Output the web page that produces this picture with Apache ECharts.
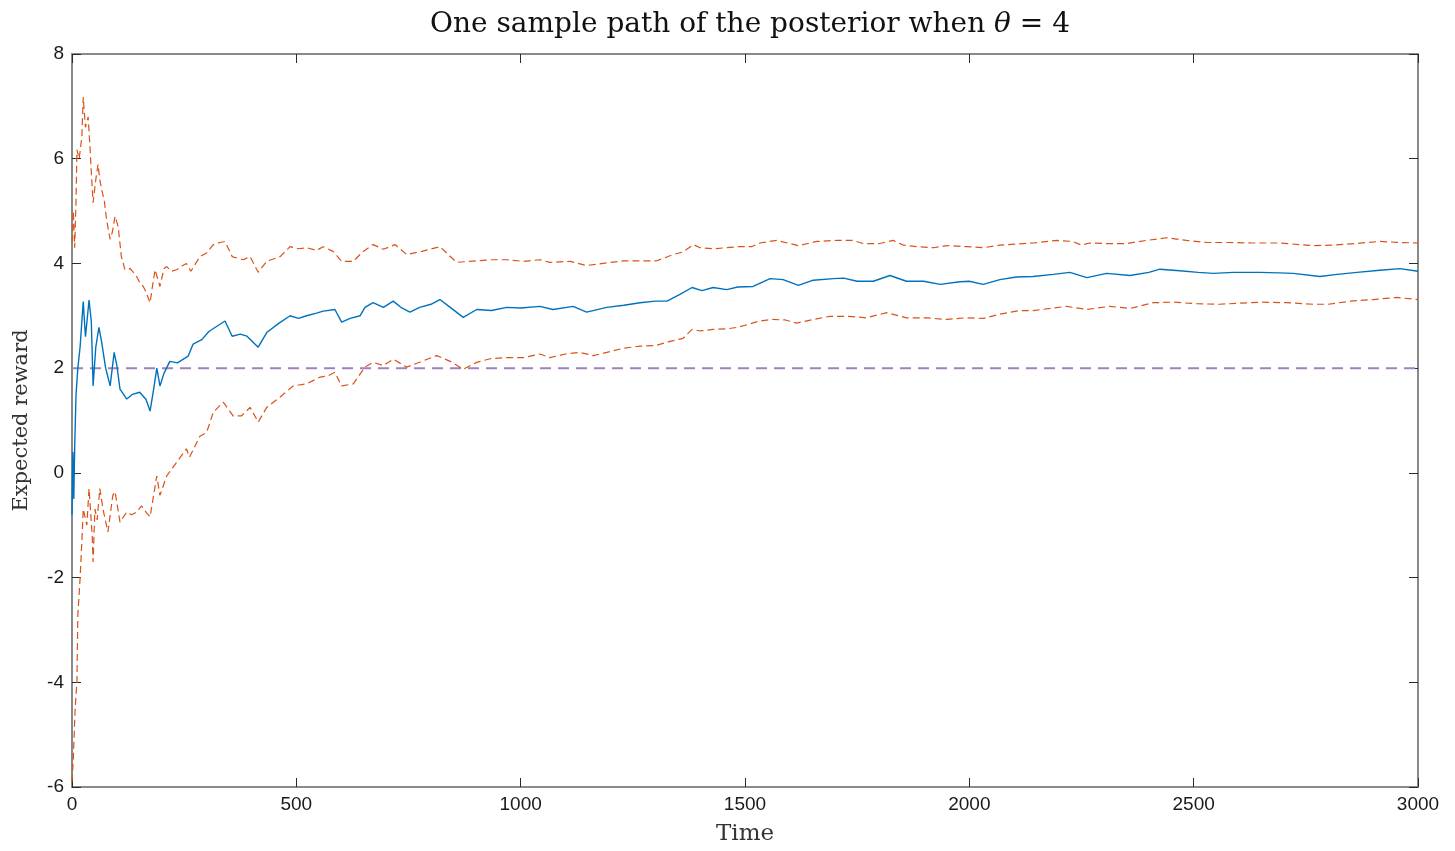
<!DOCTYPE html>
<html>
<head>
<meta charset="utf-8">
<script src="https://cdn.jsdelivr.net/npm/echarts@6/dist/echarts.min.js"></script>
<style>
html,body{margin:0;padding:0;background:#fff;}
#c{width:1455px;height:851px;}
</style>
</head>
<body>
<div id="c"></div>
<script>
// ---- data ----
const meanT = [0,2,4,6,9,13,18,25,30,38,
  43,47,53,60,66,75,85,94,100,107,
  115,122,135,151,165,174,182,189,196,205,
  218,235,259,270,290,305,323,341,357,375,
  390,415,434,460,486,505,523,545,560,586,
  601,620,642,653,671,694,716,735,753,775,
  800,820,843,872,902,935,969,1000,1043,1072,
  1117,1147,1192,1230,1266,1300,1326,1355,1382,1404,
  1429,1459,1484,1518,1556,1585,1619,1652,1697,1720,
  1750,1786,1823,1860,1898,1935,1979,2000,2031,2068,
  2105,2142,2187,2224,2262,2306,2358,2400,2425,2469,
  2510,2544,2588,2648,2690,2722,2781,2820,2864,2915,
  2960,3000];
const meanY = [-0.8,0.4,-0.5,0.5,1.5,2.0,2.4,3.27,2.6,3.3,
  2.9,1.66,2.4,2.78,2.5,2.0,1.66,2.3,2.05,1.6,
  1.5,1.41,1.5,1.54,1.4,1.18,1.6,2.0,1.66,1.9,
  2.13,2.1,2.23,2.46,2.55,2.7,2.8,2.9,2.61,2.65,
  2.61,2.4,2.68,2.85,3.0,2.95,3.0,3.05,3.09,3.12,
  2.88,2.95,3.0,3.16,3.25,3.16,3.28,3.15,3.07,3.16,
  3.22,3.31,3.16,2.97,3.12,3.1,3.16,3.15,3.18,3.12,
  3.18,3.07,3.16,3.2,3.25,3.28,3.28,3.41,3.54,3.48,
  3.54,3.5,3.55,3.56,3.71,3.69,3.58,3.68,3.71,3.72,
  3.66,3.66,3.77,3.66,3.66,3.6,3.65,3.66,3.6,3.69,
  3.74,3.75,3.79,3.83,3.73,3.81,3.77,3.83,3.89,3.86,
  3.83,3.81,3.83,3.83,3.82,3.81,3.75,3.79,3.83,3.87,
  3.9,3.85];

const upperT = [0,3,6,9,11,16,22,25,30,36,
  40,44,47,53,58,62,66,72,77,85,
  90,96,103,110,118,130,144,150,159,165,
  174,180,185,196,205,211,222,233,245,255,
  265,285,300,315,330,341,357,382,397,415,
  434,464,486,505,523,545,560,582,601,627,
  649,671,694,720,746,780,820,835,857,887,
  932,969,1006,1043,1065,1110,1147,1192,1229,1266,
  1303,1340,1362,1385,1400,1429,1459,1484,1515,1533,
  1571,1619,1660,1705,1740,1763,1800,1830,1853,1883,
  1920,1950,1995,2031,2068,2105,2142,2195,2230,2250,
  2268,2306,2350,2395,2440,2484,2530,2580,2630,2692,
  2766,2810,2860,2915,2960,3000];
const upperY = [4.4,5.0,4.3,5.2,6.17,6.0,6.42,7.18,6.6,6.8,
  6.23,5.6,5.16,5.6,5.89,5.6,5.41,5.2,4.84,4.46,
  4.6,4.9,4.7,4.13,3.88,3.9,3.75,3.65,3.56,3.45,
  3.25,3.6,3.88,3.56,3.9,3.94,3.85,3.88,3.95,4.0,
  3.85,4.13,4.2,4.36,4.4,4.42,4.13,4.07,4.13,3.83,
  4.04,4.13,4.32,4.28,4.3,4.25,4.32,4.23,4.04,4.04,
  4.23,4.36,4.27,4.36,4.17,4.23,4.32,4.2,4.02,4.04,
  4.07,4.07,4.04,4.07,4.02,4.04,3.96,4.01,4.05,4.05,
  4.05,4.17,4.22,4.36,4.3,4.28,4.3,4.32,4.32,4.39,
  4.44,4.34,4.42,4.44,4.44,4.38,4.38,4.44,4.35,4.32,
  4.3,4.34,4.32,4.3,4.35,4.37,4.39,4.44,4.42,4.35,
  4.39,4.38,4.38,4.44,4.49,4.44,4.4,4.4,4.39,4.39,
  4.34,4.35,4.38,4.42,4.4,4.39];

const lowerT = [0,3,7,11,13,18,22,25,33,38,
  45,47,51,56,62,69,80,91,96,107,
  122,133,144,155,165,174,189,196,211,233,
  255,262,285,300,315,337,359,378,397,415,
  434,464,493,523,553,570,586,601,627,653,
  671,694,716,746,780,813,843,872,902,932,
  969,1006,1043,1065,1100,1132,1162,1192,1229,1266,
  1300,1333,1362,1382,1400,1429,1459,1484,1533,1560,
  1590,1615,1652,1689,1733,1770,1816,1860,1905,1950,
  1990,2031,2068,2113,2142,2180,2217,2262,2313,2358,
  2410,2455,2506,2558,2600,2655,2707,2766,2800,2850,
  2900,2953,3000];
const lowerY = [-5.9,-5.45,-4.5,-3.98,-2.72,-2.02,-1.31,-0.69,-1.0,-0.3,
  -1.2,-1.7,-0.69,-0.9,-0.3,-0.69,-1.13,-0.43,-0.36,-0.94,
  -0.75,-0.8,-0.75,-0.63,-0.75,-0.84,-0.06,-0.43,-0.06,0.2,
  0.46,0.3,0.7,0.77,1.16,1.35,1.09,1.09,1.25,0.97,
  1.25,1.45,1.66,1.7,1.83,1.85,1.92,1.66,1.7,2.02,
  2.11,2.05,2.17,2.02,2.13,2.24,2.13,1.98,2.11,2.18,
  2.2,2.2,2.27,2.2,2.27,2.3,2.24,2.3,2.38,2.42,
  2.43,2.51,2.57,2.74,2.71,2.74,2.75,2.78,2.9,2.93,
  2.92,2.86,2.93,2.99,2.99,2.96,3.06,2.96,2.96,2.93,
  2.96,2.95,3.03,3.1,3.1,3.14,3.18,3.12,3.18,3.14,
  3.25,3.26,3.23,3.22,3.24,3.26,3.25,3.22,3.22,3.28,
  3.31,3.35,3.31];

const refLevel = 2;
const xTicks = [0,500,1000,1500,2000,2500,3000];
const yTicks = [-6,-4,-2,0,2,4,6,8];

// ---- build ----
const zip = (t, y) => t.map((v, i) => [v, y[i]]);
const axisGrey = '#8a8a8a';
const tickCol = '#2b2b2b';
const labelFont = {color:'#1a1a1a', fontSize:19, fontFamily:'Liberation Sans, Arial, sans-serif',
  formatter: v => String(v)};

const chart = echarts.init(document.getElementById('c'), null, {renderer:'canvas'});
chart.setOption({
  animation:false,
  backgroundColor:'#fff',
  title:{
    text:'{a|One sample path of the posterior when }{i|θ}{a| = 4}',
    left:745, top:6, textAlign:'center',
    textStyle:{fontWeight:'normal', rich:{
      a:{fontFamily:'DejaVu Serif, serif', fontSize:28, fontWeight:'normal', color:'#111'},
      i:{fontFamily:'DejaVu Serif, serif', fontSize:28, fontWeight:'normal', fontStyle:'italic', color:'#111'}
    }}
  },
  grid:{left:72, right:37, top:54, bottom:60, containLabel:false},
  xAxis:[{
    type:'value', min:xTicks[0], max:xTicks[xTicks.length-1], interval:500,
    position:'bottom',
    name:'Time', nameLocation:'middle', nameGap:36,
    nameTextStyle:{fontFamily:'DejaVu Serif, serif', fontSize:23, color:'#333'},
    axisLine:{show:true, onZero:false, lineStyle:{color:axisGrey, width:2}},
    axisTick:{show:true, inside:true, length:9, lineStyle:{color:tickCol, width:1}},
    axisLabel:Object.assign({margin:8}, labelFont),
    splitLine:{show:false}
  },{
    type:'value', min:xTicks[0], max:xTicks[xTicks.length-1], interval:500,
    position:'top',
    axisLine:{show:true, onZero:false, lineStyle:{color:axisGrey, width:2}},
    axisTick:{show:true, inside:true, length:9, lineStyle:{color:tickCol, width:1}},
    axisLabel:{show:false}, splitLine:{show:false}
  }],
  yAxis:[{
    type:'value', min:yTicks[0], max:yTicks[yTicks.length-1], interval:2,
    position:'left',
    name:'Expected reward', nameLocation:'middle', nameGap:40,
    nameTextStyle:{fontFamily:'DejaVu Serif, serif', fontSize:21, color:'#333'},
    axisLine:{show:true, onZero:false, lineStyle:{color:axisGrey, width:2}},
    axisTick:{show:true, inside:true, length:9, lineStyle:{color:tickCol, width:1}},
    axisLabel:Object.assign({margin:8}, labelFont),
    splitLine:{show:false}
  },{
    type:'value', min:yTicks[0], max:yTicks[yTicks.length-1], interval:2,
    position:'right',
    axisLine:{show:true, onZero:false, lineStyle:{color:axisGrey, width:2}},
    axisTick:{show:true, inside:true, length:9, lineStyle:{color:tickCol, width:1}},
    axisLabel:{show:false}, splitLine:{show:false}
  }],
  series:[
    {type:'line', name:'upper', data:zip(upperT, upperY), showSymbol:false, symbol:'none',
     lineStyle:{color:'#D95319', width:1.2, type:[7,4]}, z:3},
    {type:'line', name:'lower', data:zip(lowerT, lowerY), showSymbol:false, symbol:'none',
     lineStyle:{color:'#D95319', width:1.2, type:[7,4]}, z:3},
    {type:'line', name:'reference', data:[[xTicks[0], refLevel],[xTicks[xTicks.length-1], refLevel]],
     showSymbol:false, symbol:'none',
     lineStyle:{color:'#a47fc0', width:2, type:[11,7]}, z:2},
    {type:'line', name:'mean', data:zip(meanT, meanY), showSymbol:false, symbol:'none',
     lineStyle:{color:'#0072BD', width:1.4}, z:4}
  ]
});
</script>
</body>
</html>
